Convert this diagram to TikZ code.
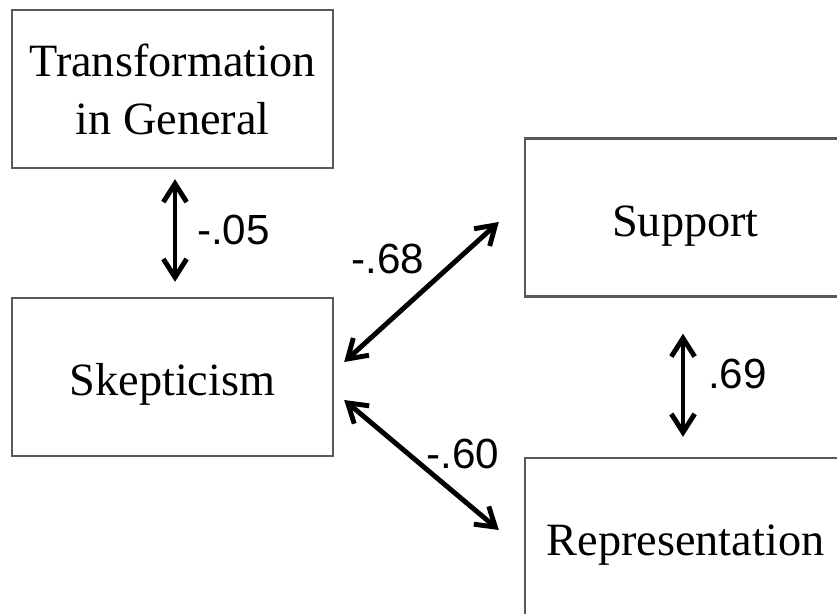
\documentclass[tikz,border=0pt]{standalone}
\usepackage{fontspec}
\setmainfont{Liberation Serif}
\newfontfamily\coeffont{Liberation Sans}
\usetikzlibrary{arrows.meta}
\tikzset{
    box/.style={rectangle, draw=black!65, line width=2pt, minimum width=9.63cm,
    	minimum height=4.74cm, align=center, font=\fontsize{39.5}{49.5}\selectfont},
    onebox/.style={box, text height=32.4pt, text depth=0pt},
    corr/.style={{Straight Barb[length=5.5mm,width=7mm]}-{Straight Barb[length=5.5mm,width=7mm]},
    	line width=4.2pt},
    coef/.style={font=\coeffont\fontsize{36}{40}\selectfont}
}

\begin{document}
\begin{tikzpicture}[x=0.03cm, y=-0.03cm]
	\useasboundingbox (0,0) rectangle (837,613);
	\clip (0,0) rectangle (837,613);
	\node [box] (trans) at (172.5,89) {Transformation\\in General};
	\node [onebox] (skep) at (172.5,377) {Skepticism};
	\node [onebox] (supp) at (685.5,217.5) {Support};
	\node [onebox] (repr) at (685.5,537) {Representation};
	\node [coef] (c05) at (233.5,229.5) {-.05};
	\node [coef] (c68) at (388,259) {-.68};
	\node [coef] (c60) at (463,454) {-.60};
	\node [coef] (c69) at (737.5,374) {.69};
	\draw [corr] ([shift={(2.5,10)}]trans.south) -- ([shift={(2.5,-15)}]skep.north);
	\draw [corr] ([shift={(10,-15)}]skep.east) -- ([shift={(-25,4.5)}]supp.west);
	\draw [corr] ([shift={(10,23)}]skep.east) -- ([shift={(-25,-7)}]repr.west);
	\draw [corr] ([shift={(-2.5,36)}]supp.south) -- ([shift={(-2.5,-20)}]repr.north);
\end{tikzpicture}
\end{document}
